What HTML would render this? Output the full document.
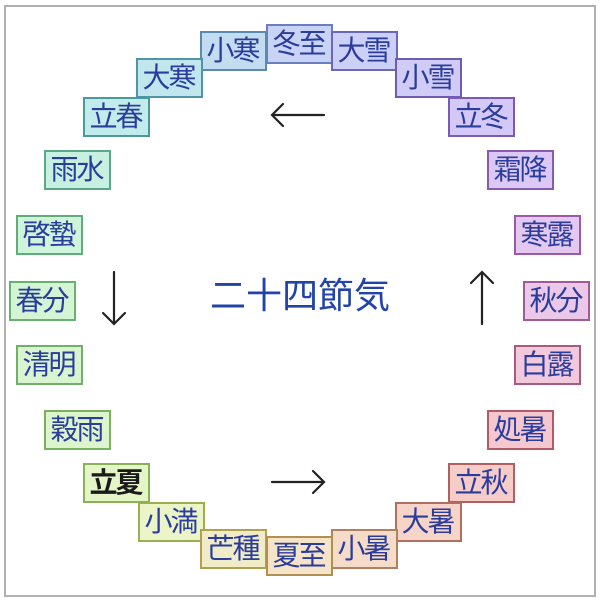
<!DOCTYPE html>
<html><head><meta charset="utf-8"><style>
html,body{margin:0;padding:0;background:#fff;}
body{width:600px;height:602px;position:relative;overflow:hidden;font-family:"Liberation Sans","Noto Sans CJK JP",sans-serif;}
.frame{position:absolute;left:4px;top:5px;width:588px;height:588px;border:2px solid #b0b0b0;}
.b{position:absolute;box-sizing:border-box;width:67px;height:40px;border:2px solid;font-size:28px;line-height:35px;text-align:center;color:#2a3c9c;white-space:nowrap;letter-spacing:-2px;text-indent:-2px;}
.t{position:absolute;left:190px;top:274px;width:220px;text-align:center;font-size:36px;color:#2244aa;line-height:44px;}
</style></head><body>
<div class="frame"></div>
<div class="b" style="left:266px;top:24px;background:#c9d3f5;border-color:#6b7fc0">冬至</div>
<div class="b" style="left:200px;top:31px;background:#c3dcf0;border-color:#5a8ab0">小寒</div>
<div class="b" style="left:331px;top:31px;background:#ccd0f6;border-color:#6a68b8">大雪</div>
<div class="b" style="left:136px;top:58px;background:#c2e6ee;border-color:#4f95a8">大寒</div>
<div class="b" style="left:395px;top:58px;background:#d0ccf6;border-color:#705ab8">小雪</div>
<div class="b" style="left:83px;top:97px;background:#c2ecec;border-color:#4a9a9a">立春</div>
<div class="b" style="left:448px;top:97px;background:#d4c8f6;border-color:#7a5ab8">立冬</div>
<div class="b" style="left:44px;top:150px;background:#c8f0e0;border-color:#5aa88a">雨水</div>
<div class="b" style="left:487px;top:150px;background:#dcc8f4;border-color:#8a5ab0">霜降</div>
<div class="b" style="left:16px;top:215px;background:#cff4dc;border-color:#5fae7a">啓蟄</div>
<div class="b" style="left:514px;top:215px;background:#e4c8f0;border-color:#9a5aa8">寒露</div>
<div class="b" style="left:9px;top:281px;background:#d4f5d4;border-color:#6ab070">春分</div>
<div class="b" style="left:523px;top:281px;background:#ecc8e8;border-color:#a05a98">秋分</div>
<div class="b" style="left:16px;top:345px;background:#d8f5d0;border-color:#70b068">清明</div>
<div class="b" style="left:514px;top:345px;background:#f2c8dc;border-color:#a85a80">白露</div>
<div class="b" style="left:44px;top:410px;background:#dcf5cc;border-color:#7ab060">穀雨</div>
<div class="b" style="left:487px;top:410px;background:#f5c8d0;border-color:#b05a6a">処暑</div>
<div class="b" style="left:83px;top:463px;background:#e4f6c8;border-color:#8ab058;color:#1a1a1a;font-weight:bold">立夏</div>
<div class="b" style="left:448px;top:463px;background:#f6ccc8;border-color:#b06060">立秋</div>
<div class="b" style="left:138px;top:502px;background:#ecf5c8;border-color:#9ab050">小満</div>
<div class="b" style="left:395px;top:502px;background:#f6d4c8;border-color:#b07060">大暑</div>
<div class="b" style="left:200px;top:529px;background:#f0ecc8;border-color:#b0a050">芒種</div>
<div class="b" style="left:331px;top:529px;background:#f5dcc8;border-color:#b08060">小暑</div>
<div class="b" style="left:266px;top:536px;background:#f5e4c8;border-color:#b09050">夏至</div>
<div class="t">二十四節気</div>
<svg width="600" height="602" style="position:absolute;left:0;top:0" fill="none" stroke="#222" stroke-width="2.2" stroke-linecap="round">
<path d="M272 115H324M283 104L272 115L283 126"/>
<path d="M272 482H324M313 471L324 482L313 493"/>
<path d="M114 272V324M103 313L114 324L125 313"/>
<path d="M482 272V324M471 283L482 272L493 283"/>
</svg>
</body></html>
